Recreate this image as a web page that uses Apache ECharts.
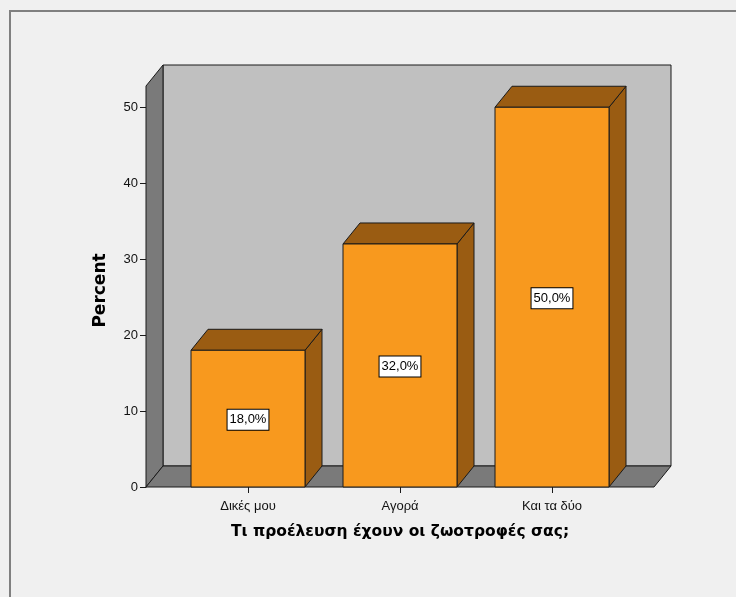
<!DOCTYPE html>
<html>
<head>
<meta charset="utf-8">
<style>
  html, body { margin: 0; padding: 0; background: #f0f0f0; }
  #chart { width: 736px; height: 597px; }
</style>
<script src="https://cdn.jsdelivr.net/npm/echarts@6/dist/echarts.min.js"></script>
</head>
<body>
<div id="chart"></div>
<script>
// Origin of pet food, percentages per answer
const categories = ['Δικές μου', 'Αγορά', 'Και τα δύο'];
const percents = [18.0, 32.0, 50.0];
const yTicks = [0, 10, 20, 30, 40, 50];

const xTitle = 'Τι προέλευση έχουν οι ζωοτροφές σας;';
const yTitle = 'Percent';

// 3D look: depth offset of the box and wall extension outside the bar band
const DX = 17, DY = -21, WALL_PAD = 26;
const FONT = '"Liberation Sans", Arial, sans-serif';
const TITLE_FONT = '"DejaVu Sans", sans-serif';
const EDGE = '#1a1a1a';

function fmtPct(v) {
  return v.toFixed(1).replace('.', ',') + '%';
}

// Back wall, side wall and floor around the plotting area
function renderWalls(params, api) {
  const cs = params.coordSys;
  const x0 = cs.x - WALL_PAD, x1 = cs.x + cs.width + WALL_PAD;
  const yB = api.coord([0, 0])[1];
  const yT = cs.y;
  const line = { stroke: EDGE, lineWidth: 1 };
  return {
    type: 'group',
    children: [
      { type: 'polygon', shape: { points: [[x0 + DX, yT + DY], [x1 + DX, yT + DY], [x1 + DX, yB + DY], [x0 + DX, yB + DY]] },
        style: Object.assign({ fill: '#c0c0c0' }, line) },
      { type: 'polygon', shape: { points: [[x0, yB], [x0 + DX, yB + DY], [x0 + DX, yT + DY], [x0, yT]] },
        style: Object.assign({ fill: '#7a7a7a' }, line) },
      { type: 'polygon', shape: { points: [[x0, yB], [x1, yB], [x1 + DX, yB + DY], [x0 + DX, yB + DY]] },
        style: Object.assign({ fill: '#7a7a7a' }, line) }
    ]
  };
}

// One 3D box per answer with its value label in the middle of the front face
function renderBar(params, api) {
  const idx = api.value(0);
  const val = api.value(1);
  const top = api.coord([idx, val]);
  const base = api.coord([idx, 0]);
  const w = api.size([1, 0])[0] * 0.75;
  const l = top[0] - w / 2, r = top[0] + w / 2;
  const yt = top[1], yb = base[1];
  const line = { stroke: EDGE, lineWidth: 1 };
  return {
    type: 'group',
    children: [
      { type: 'polygon', shape: { points: [[r, yb], [r + DX, yb + DY], [r + DX, yt + DY], [r, yt]] },
        style: Object.assign({ fill: '#9a5c12' }, line) },
      { type: 'polygon', shape: { points: [[l, yt], [l + DX, yt + DY], [r + DX, yt + DY], [r, yt]] },
        style: Object.assign({ fill: '#9a5c12' }, line) },
      { type: 'rect', shape: { x: l, y: yt, width: w, height: yb - yt },
        style: Object.assign({ fill: '#f8991e' }, line) },
      { type: 'text', x: top[0], y: (yt + yb) / 2 + 1,
        style: { text: fmtPct(val), font: '13px ' + FONT, fill: '#000', align: 'center', verticalAlign: 'middle',
                 backgroundColor: '#ffffff', borderColor: '#000', borderWidth: 1, padding: [4, 2, 3, 2] } }
    ]
  };
}

const chart = echarts.init(document.getElementById('chart'), null, { renderer: 'canvas' });
chart.setOption({
  backgroundColor: '#f0f0f0',
  animation: false,
  graphic: [{
    type: 'rect', silent: true,
    shape: { x: 10, y: 11, width: 900, height: 900 },
    style: { fill: 'none', stroke: '#808080', lineWidth: 2 }
  }],
  grid: { left: 172, right: 108, top: 86, bottom: 110 },
  xAxis: {
    type: 'category',
    data: categories,
    axisLine: { show: false },
    axisTick: { show: true, alignWithLabel: true, length: 6, lineStyle: { color: EDGE } },
    axisLabel: { margin: 13, color: '#111', fontSize: 13, fontFamily: FONT },
    splitLine: { show: false },
    name: xTitle,
    nameLocation: 'middle',
    nameGap: 37,
    nameTextStyle: { color: '#000', fontSize: 15.5, fontWeight: 'bold', fontFamily: TITLE_FONT }
  },
  yAxis: {
    type: 'value',
    min: 0,
    max: 52.8,
    offset: WALL_PAD,
    axisLine: { show: true, lineStyle: { color: EDGE } },
    axisTick: { show: true, length: 6, lineStyle: { color: EDGE }, customValues: yTicks },
    axisLabel: { margin: 8, color: '#111', fontSize: 13, fontFamily: FONT, customValues: yTicks },
    splitLine: { show: false },
    name: yTitle,
    nameLocation: 'middle',
    nameRotate: 90,
    nameGap: 37,
    nameTextStyle: { color: '#000', fontSize: 17, fontWeight: 'bold', fontFamily: TITLE_FONT, padding: [0, 0, 0, -8] }
  },
  series: [
    { type: 'custom', renderItem: renderWalls, data: [[0, 0]], z: 1, silent: true, clip: false },
    { type: 'custom', renderItem: renderBar, data: percents.map((v, i) => [i, v]), z: 2, clip: false,
      encode: { x: 0, y: 1 } }
  ]
});
</script>
</body>
</html>
